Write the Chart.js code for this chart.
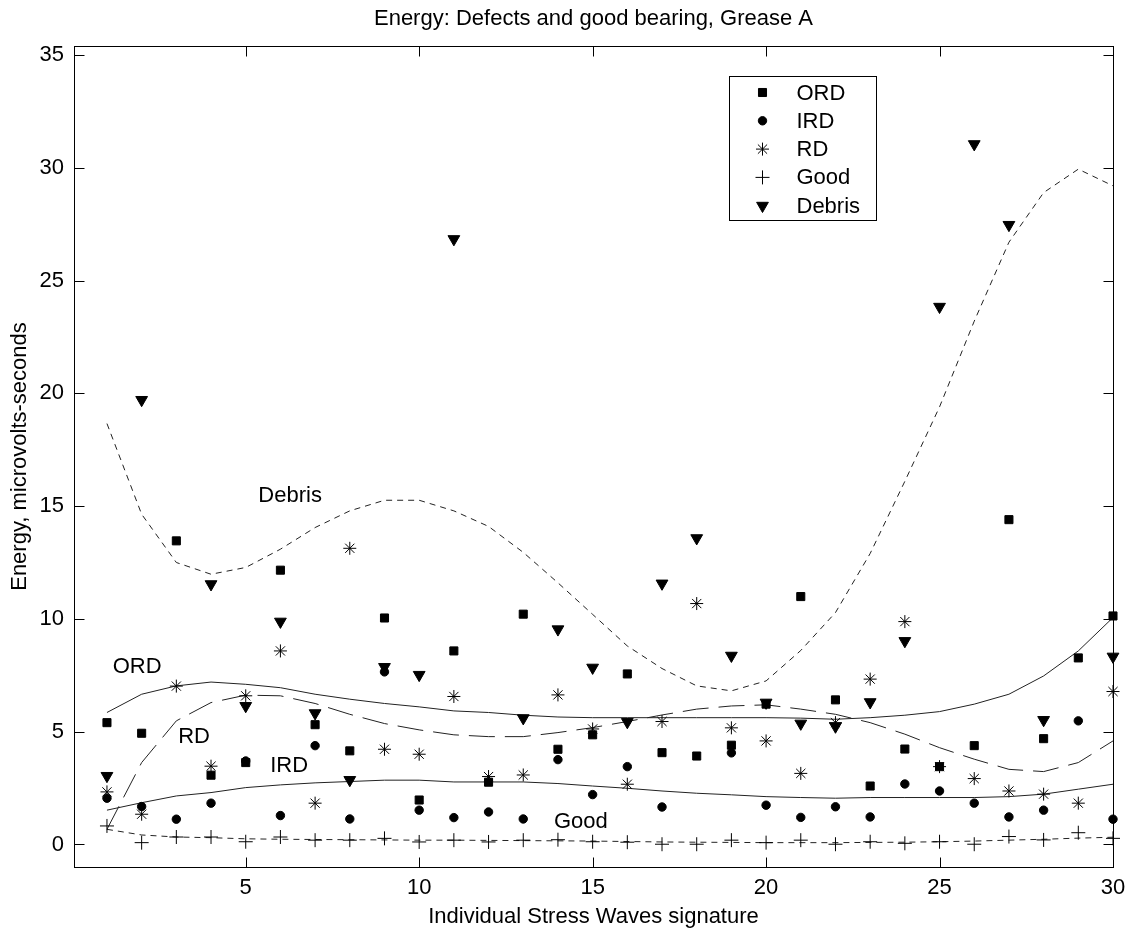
<!DOCTYPE html>
<html lang="en">
<head>
  <meta charset="UTF-8">
  <title>Energy: Defects and good bearing, Grease A</title>
  <script src="https://cdn.jsdelivr.net/npm/chart.js@4.4.0/dist/chart.umd.min.js"></script>
  <style>
  body {
    margin: 0;
    background: #fff;
  }
  #wrap {
    width: 1142px;
    height: 936px;
  }
  </style>
</head>
<body>
<div id="wrap"><canvas id="myChart"></canvas></div>
<script>
    // x values: signature number
    const signature = [1, 2, 3, 4, 5, 6, 7, 8, 9, 10, 11, 12, 13, 14, 15,
                       16, 17, 18, 19, 20, 21, 22, 23, 24, 25, 26, 27, 28, 29, 30];

    // measured energy per defect type (null = not visible in the picture)
    const ordEnergy = [5.40, 4.93, 13.46, 3.07, 3.63, 12.16, 5.31, 4.15, 10.04, 1.97, 8.58, 2.76, 10.21, 4.22, 4.86,
                       7.56, 4.07, 3.92, 4.40, 6.22, 10.99, 6.41, 2.59, 4.23, 3.45, 4.38, 14.40, 4.69, 8.27, 10.13];
    const irdEnergy = [2.05, 1.68, 1.12, 1.83, 3.70, 1.28, 4.38, 1.13, 7.65, 1.52, 1.19, 1.44, 1.13, 3.76, 2.21,
                       3.45, 1.66, null, 4.06, 1.74, 1.20, 1.67, 1.22, 2.68, 2.37, 1.83, 1.22, 1.52, 5.48, 1.12];
    const rdEnergy = [2.33, 1.34, 7.02, 3.47, 6.59, 8.58, 1.83, 13.13, 4.22, 4.00, 6.56, 3.01, 3.08, 6.63, 5.12,
                      2.67, 5.45, 10.68, 5.17, 4.59, 3.15, 5.40, 7.33, 9.88, 3.45, 2.92, 2.37, 2.23, 1.83, 6.78];
    const goodEnergy = [0.82, 0.08, 0.33, 0.33, 0.12, 0.33, 0.19, 0.19, 0.27, 0.11, 0.19, 0.11, 0.19, 0.21, 0.12,
                        0.10, 0.01, 0.01, 0.19, 0.08, 0.19, 0.01, 0.12, 0.05, 0.12, 0.01, 0.35, 0.20, 0.52, 0.27];
    const debrisEnergy = [3.04, 19.71, null, 11.54, 6.14, 9.88, 5.82, 2.86, 7.87, 7.52, 26.84, null, 5.60, 9.54, 7.84,
                          5.43, 11.57, 13.58, 8.37, 6.29, 5.36, 5.23, 6.31, 9.02, 23.84, 31.05, 27.47, 5.52, null, 8.33];

    // fitted trend curves, read at each signature
    const debrisFit = [18.66, 14.64, 12.50, 11.98, 12.28, 13.09, 14.05, 14.79, 15.26, 15.26, 14.79, 14.10, 12.95, 11.60, 10.20,
                       8.80, 7.80, 7.03, 6.81, 7.25, 8.60, 10.28, 12.90, 16.10, 19.40, 23.20, 26.70, 28.90, 29.94, 29.20];
    const ordFit = [5.85, 6.66, 7.03, 7.20, 7.10, 6.95, 6.66, 6.44, 6.25, 6.10, 5.92, 5.85, 5.73, 5.65, 5.62,
                    5.62, 5.62, 5.62, 5.62, 5.62, 5.60, 5.55, 5.62, 5.73, 5.89, 6.22, 6.66, 7.47, 8.58, 10.06];
    const irdFit = [1.52, 1.85, 2.15, 2.30, 2.52, 2.64, 2.73, 2.79, 2.85, 2.85, 2.77, 2.77, 2.77, 2.70, 2.59,
                    2.49, 2.37, 2.27, 2.20, 2.12, 2.08, 2.05, 2.08, 2.08, 2.08, 2.08, 2.12, 2.23, 2.45, 2.67];
    const rdFit = [0.67, 3.63, 5.48, 6.29, 6.62, 6.59, 6.25, 5.77, 5.36, 5.08, 4.86, 4.78, 4.78, 4.96, 5.18,
                   5.45, 5.74, 6.00, 6.14, 6.19, 6.00, 5.77, 5.40, 4.89, 4.29, 3.78, 3.33, 3.23, 3.63, 4.59];
    const goodFit = [0.67, 0.42, 0.33, 0.30, 0.25, 0.23, 0.22, 0.21, 0.20, 0.19, 0.19, 0.18, 0.17, 0.16, 0.15,
                     0.13, 0.11, 0.10, 0.09, 0.08, 0.08, 0.08, 0.09, 0.10, 0.12, 0.15, 0.19, 0.23, 0.28, 0.32];

    const xTicks = [5, 10, 15, 20, 25, 30];
    const yTicks = [0, 5, 10, 15, 20, 25, 30, 35];

    // curve labels placed in data coordinates
    const curveLabels = ['Debris', 'ORD', 'RD', 'IRD', 'Good'];
    const curveLabelX = [6.28, 1.87, 3.51, 6.25, 14.66];
    const curveLabelY = [15.45, 7.87, 4.76, 3.48, 0.99];

    const FONT = "'Liberation Sans', Arial, Helvetica, sans-serif";
    const FSIZE = 22;
    Chart.defaults.font.family = FONT;
    Chart.defaults.font.size = FSIZE;
    Chart.defaults.color = '#000';

    function pts(arr) {
      return signature.map((x, i) => ({x: x, y: arr[i]})).filter(p => p.y !== null);
    }

    const markerSets = [
      {label: 'ORD', data: pts(ordEnergy), pointStyle: 'rect', pointRadius: 5.7, rotation: 0},
      {label: 'IRD', data: pts(irdEnergy), pointStyle: 'circle', pointRadius: 4.2, rotation: 0},
      {label: 'RD', data: pts(rdEnergy), pointStyle: 'star', pointRadius: 6.5, rotation: 0},
      {label: 'Good', data: pts(goodEnergy), pointStyle: 'cross', pointRadius: 7, rotation: 0},
      {label: 'Debris', data: pts(debrisEnergy), pointStyle: 'triangle', pointRadius: 6.8, rotation: 180}
    ].map(d => Object.assign(d, {
      showLine: false,
      backgroundColor: '#000',
      borderColor: '#000',
      pointBackgroundColor: '#000',
      pointBorderColor: '#000',
      pointBorderWidth: 1,
      pointRotation: d.rotation,
      pointHoverRadius: d.pointRadius,
      clip: false
    }));

    const fitSets = [
      {label: 'Debris fit', data: pts(debrisFit), borderDash: [6, 5]},
      {label: 'ORD fit', data: pts(ordFit), borderDash: []},
      {label: 'IRD fit', data: pts(irdFit), borderDash: []},
      {label: 'RD fit', data: pts(rdFit), borderDash: [26, 10]},
      {label: 'Good fit', data: pts(goodFit), borderDash: [6, 5]}
    ].map(d => Object.assign(d, {
      showLine: true,
      fill: false,
      tension: 0,
      borderColor: '#222',
      borderWidth: 1,
      pointRadius: 0,
      pointHoverRadius: 0,
      clip: false
    }));

    // box, inward ticks, curve labels and legend
    const matlab_frame = {
      id: 'matlab_frame',
      afterDraw: (chart) => {
        const ctx = chart.ctx;
        const a = chart.chartArea;
        const xs = chart.scales.x;
        const ys = chart.scales.y;
        ctx.save();
        ctx.strokeStyle = '#000';
        ctx.lineWidth = 1;
        ctx.setLineDash([]);
        const L = Math.round(a.left) + 0.5, R = Math.round(a.right) + 0.5;
        const T = Math.round(a.top) + 0.5, B = Math.round(a.bottom) + 0.5;
        ctx.strokeRect(L, T, R - L, B - T);
        ctx.beginPath();
        xTicks.forEach(v => {
          const px = Math.round(xs.getPixelForValue(v)) + 0.5;
          ctx.moveTo(px, B); ctx.lineTo(px, B - 10);
          ctx.moveTo(px, T); ctx.lineTo(px, T + 10);
        });
        yTicks.forEach(v => {
          const py = Math.round(ys.getPixelForValue(v)) + 0.5;
          ctx.moveTo(L, py); ctx.lineTo(L + 10, py);
          ctx.moveTo(R, py); ctx.lineTo(R - 10, py);
        });
        ctx.stroke();

        ctx.fillStyle = '#000';
        ctx.font = FSIZE + 'px ' + FONT;
        ctx.textAlign = 'center';
        ctx.textBaseline = 'middle';
        curveLabels.forEach((t, i) => {
          ctx.fillText(t, xs.getPixelForValue(curveLabelX[i]), ys.getPixelForValue(curveLabelY[i]));
        });

        // legend box
        const bx = a.left + 655.5, by = a.top + 30.5, bw = 147, bh = 144;
        ctx.fillStyle = '#fff';
        ctx.fillRect(bx, by, bw, bh);
        ctx.strokeRect(bx, by, bw, bh);
        markerSets.forEach((d, i) => {
          const cy = by + 16 + i * 28.3;
          const mx = bx + 33;
          ctx.fillStyle = '#000';
          ctx.strokeStyle = '#000';
          ctx.lineWidth = 1;
          Chart.helpers.drawPoint(ctx, {
            pointStyle: d.pointStyle,
            radius: d.pointRadius,
            rotation: d.rotation,
            borderWidth: 1
          }, mx, cy);
          ctx.textAlign = 'left';
          ctx.fillText(d.label, bx + 67, cy + 1);
        });
        ctx.restore();
      }
    };

    const ctx = document.getElementById('myChart');
    const myChart = new Chart(ctx, {
      type: 'scatter',
      data: {
        datasets: markerSets.concat(fitSets)
      },
      options: {
        responsive: true,
        maintainAspectRatio: false,
        animation: false,
        events: [],
        layout: {
          padding: {left: 0, right: 29, top: 0, bottom: 0}
        },
        scales: {
          x: {
            type: 'linear',
            min: 0.05,
            max: 30,
            grid: {display: false, drawTicks: false},
            border: {display: false},
            afterBuildTicks: (s) => { s.ticks = xTicks.map(v => ({value: v})); },
            afterFit: (s) => { s.height = 69; },
            ticks: {padding: 8, maxRotation: 0, color: '#000'},
            title: {
              display: true,
              text: 'Individual Stress Waves signature',
              padding: {top: 0, bottom: 6},
              color: '#000'
            }
          },
          y: {
            type: 'linear',
            min: -1,
            max: 35.4,
            grid: {display: false, drawTicks: false},
            border: {display: false},
            afterBuildTicks: (s) => { s.ticks = yTicks.map(v => ({value: v})); },
            afterFit: (s) => { s.width = 74; },
            ticks: {padding: 10, color: '#000'},
            title: {
              display: true,
              text: 'Energy, microvolts-seconds',
              padding: {top: 7, bottom: 0},
              color: '#000'
            }
          }
        },
        plugins: {
          legend: {display: false},
          tooltip: {enabled: false},
          title: {
            display: true,
            fullSize: false,
            text: 'Energy: Defects and good bearing, Grease A',
            font: {size: FSIZE, weight: 'normal'},
            color: '#000',
            padding: {top: 6, bottom: 13.6}
          }
        }
      },
      plugins: [matlab_frame]
    });
</script>
</body>
</html>
